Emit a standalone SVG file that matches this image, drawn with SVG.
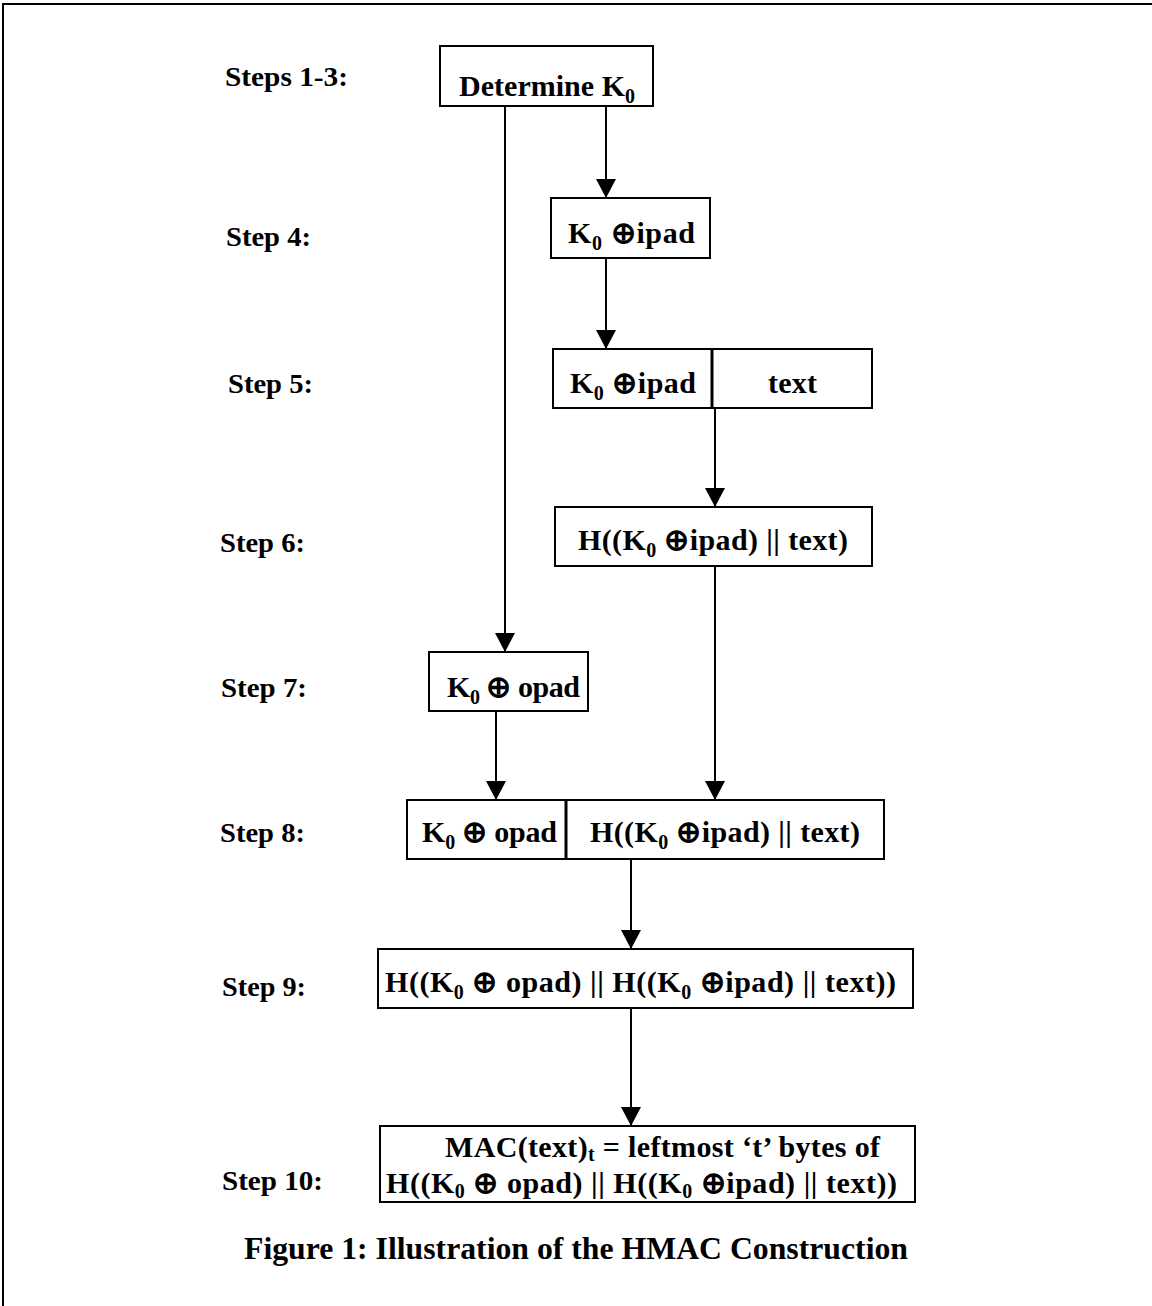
<svg xmlns="http://www.w3.org/2000/svg" width="1152" height="1306" viewBox="0 0 1152 1306">
<style>
.lbl{font-family:"Liberation Serif","Times New Roman",serif;font-weight:bold;font-size:28px;fill:#000}
.t{font-family:"Liberation Serif","Times New Roman",serif;font-weight:bold;font-size:30px;fill:#000}
.cap{font-family:"Liberation Serif","Times New Roman",serif;font-weight:bold;font-size:32px;fill:#000}
.sub{font-size:20px}
.box{fill:#fff;stroke:#000;stroke-width:2}
.div{stroke:#000;stroke-width:3}
.con{stroke:#000;stroke-width:2;fill:none;marker-end:url(#ah)}
.frame{stroke:#000;stroke-width:2;fill:none}
</style>
<defs>
<marker id="ah" markerUnits="userSpaceOnUse" markerWidth="19" markerHeight="20" refX="19" refY="10" orient="auto">
<path d="M0,0 L19,10 L0,20 Z" fill="#000"/>
</marker>
</defs>
<rect width="1152" height="1306" fill="#fff"/>
<path class="frame" d="M3,1306 L3,4 L1152,4"/>

<g id="connectors">
<line class="con" x1="505" y1="106" x2="505" y2="652"/>
<line class="con" x1="606" y1="106" x2="606" y2="198"/>
<line class="con" x1="606" y1="258" x2="606" y2="349"/>
<line class="con" x1="715" y1="408" x2="715" y2="507"/>
<line class="con" x1="715" y1="566" x2="715" y2="800"/>
<line class="con" x1="496" y1="711" x2="496" y2="800"/>
<line class="con" x1="631" y1="859" x2="631" y2="949"/>
<line class="con" x1="631" y1="1008" x2="631" y2="1126"/>
</g>

<g id="labels">
<text class="lbl" x="225" y="86" textLength="123" lengthAdjust="spacingAndGlyphs">Steps 1-3:</text>
<text class="lbl" x="226" y="246" textLength="85" lengthAdjust="spacingAndGlyphs">Step 4:</text>
<text class="lbl" x="228" y="393" textLength="85" lengthAdjust="spacingAndGlyphs">Step 5:</text>
<text class="lbl" x="220" y="552" textLength="85" lengthAdjust="spacingAndGlyphs">Step 6:</text>
<text class="lbl" x="221" y="697" textLength="86" lengthAdjust="spacingAndGlyphs">Step 7:</text>
<text class="lbl" x="220" y="842" textLength="85" lengthAdjust="spacingAndGlyphs">Step 8:</text>
<text class="lbl" x="222" y="996" textLength="84" lengthAdjust="spacingAndGlyphs">Step 9:</text>
<text class="lbl" x="222" y="1190" textLength="101" lengthAdjust="spacingAndGlyphs">Step 10:</text>
</g>

<g id="n1">
<rect class="box" x="440" y="46" width="213" height="60"/>
<text class="t" x="459" y="96" textLength="176" lengthAdjust="spacing">Determine K<tspan class="sub" dy="7">0</tspan></text>
</g>

<g id="n4">
<rect class="box" x="551" y="198" width="159" height="60"/>
<text class="t" x="568" y="243" textLength="127" lengthAdjust="spacing">K<tspan class="sub" dy="7">0</tspan><tspan dy="-7"> ⊕ipad</tspan></text>
</g>

<g id="n5">
<rect class="box" x="553" y="349" width="319" height="59"/>
<line class="div" x1="712" y1="349" x2="712" y2="408"/>
<text class="t" x="570" y="393" textLength="126" lengthAdjust="spacing">K<tspan class="sub" dy="7">0</tspan><tspan dy="-7"> ⊕ipad</tspan></text>
<text class="t" x="768" y="393" textLength="49" lengthAdjust="spacing">text</text>
</g>

<g id="n6">
<rect class="box" x="555" y="507" width="317" height="59"/>
<text class="t" x="578" y="550" textLength="270" lengthAdjust="spacing">H((K<tspan class="sub" dy="7">0</tspan><tspan dy="-7"> ⊕ipad) || text)</tspan></text>
</g>

<g id="n7">
<rect class="box" x="429" y="652" width="159" height="59"/>
<text class="t" x="447" y="697" textLength="133" lengthAdjust="spacing">K<tspan class="sub" dy="7">0</tspan><tspan dy="-7"> ⊕ opad</tspan></text>
</g>

<g id="n8">
<rect class="box" x="407" y="800" width="477" height="59"/>
<line class="div" x1="566" y1="800" x2="566" y2="859"/>
<text class="t" x="422" y="842" textLength="135" lengthAdjust="spacing">K<tspan class="sub" dy="7">0</tspan><tspan dy="-7"> ⊕ opad</tspan></text>
<text class="t" x="590" y="842" textLength="270" lengthAdjust="spacing">H((K<tspan class="sub" dy="7">0</tspan><tspan dy="-7"> ⊕ipad) || text)</tspan></text>
</g>

<g id="n9">
<rect class="box" x="378" y="949" width="535" height="59"/>
<text class="t" x="385" y="992" textLength="511" lengthAdjust="spacing">H((K<tspan class="sub" dy="7">0</tspan><tspan dy="-7"> ⊕ opad) || H((K</tspan><tspan class="sub" dy="7">0</tspan><tspan dy="-7"> ⊕ipad) || text))</tspan></text>
</g>

<g id="n10">
<rect class="box" x="380" y="1126" width="535" height="76"/>
<text class="t" x="445" y="1157" textLength="435" lengthAdjust="spacing">MAC(text)<tspan class="sub" dy="4">t</tspan><tspan dy="-4"> = leftmost ‘t’ bytes of</tspan></text>
<text class="t" x="386" y="1193" textLength="511" lengthAdjust="spacing">H((K<tspan class="sub" dy="5">0</tspan><tspan dy="-5"> ⊕ opad) || H((K</tspan><tspan class="sub" dy="5">0</tspan><tspan dy="-5"> ⊕ipad) || text))</tspan></text>
</g>

<g id="caption">
<text class="cap" x="244" y="1259" textLength="664" lengthAdjust="spacingAndGlyphs">Figure 1: Illustration of the HMAC Construction</text>
</g>
</svg>
